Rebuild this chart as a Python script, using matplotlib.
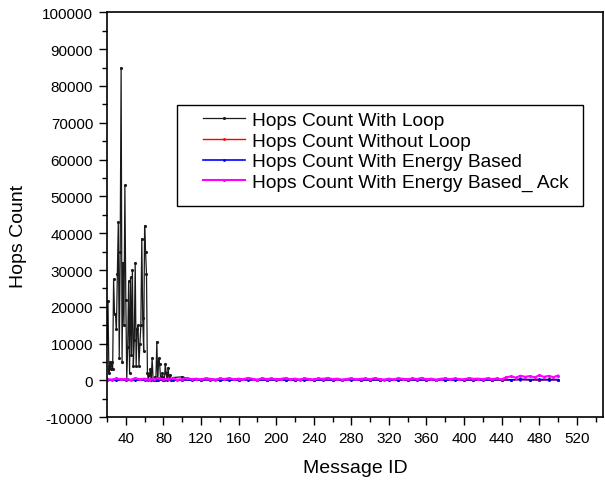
import numpy as np
import matplotlib
matplotlib.use('Agg')
from matplotlib import pyplot as plt
from matplotlib.patches import Rectangle
from matplotlib.ticker import MultipleLocator

# hops count with loop, message ids 20..90 (one per id), then every 10 ids
loop_head = [10000, 21600, 2000, 5000, 3000, 5000, 3000, 27500, 18000, 18000,
             14000, 29000, 43000, 6000, 35000, 85000, 5000, 32000, 15000, 53000,
             22000, 500, 9000, 27000, 2000, 28000, 7000, 30000, 4000, 11000,
             32000, 4000, 14000, 15000, 4000, 10000, 15000, 38500, 17000, 8000,
             42000, 35000, 29000, 2000, 0, 1500, 3000, 0, 6000, 500,
             0, 1000, 0, 10500, 0, 6000, 4500, 500, 1000, 2000,
             0, 0, 4500, 2000, 0, 3500, 500, 1500, 0, 500, 800]
loop_tail = [1000, 300, 200, 500, 100, 300, 200, 400, 100, 200,
             300, 100, 200, 400, 100, 300, 200, 100, 300, 200,
             100, 200, 300, 100, 200, 300, 100, 200, 100, 300,
             200, 100, 300, 200, 100, 200, 300, 200, 100, 300, 200]

# hops count without loop, every 10 ids from 20
no_loop = [100, 50, 150, 80, 120, 60, 200, 90, 140, 70,
           110, 160, 50, 130, 90, 180, 60, 120, 150, 80,
           100, 170, 60, 140, 90, 120, 200, 70, 150, 100,
           60, 130, 180, 90, 110, 150, 70, 140, 100, 160,
           80, 120, 200, 150, 250, 180, 220, 150, 200]

# hops count with energy based, every 10 ids from 20
energy = [150, 100, 200, 120, 180, 90, 220, 140, 170, 110,
          160, 200, 100, 180, 130, 210, 120, 160, 190, 110,
          150, 200, 120, 170, 140, 160, 230, 110, 190, 150,
          120, 170, 210, 130, 160, 190, 110, 180, 150, 200,
          130, 170, 250, 200, 300, 250, 280, 220, 260]

# hops count with energy based ack, every 5 ids from 20
energy_ack = [400, 250, 550, 300, 450, 200, 600, 350, 500, 250,
              400, 650, 300, 450, 550, 250, 400, 700, 350, 500,
              300, 600, 450, 250, 550, 400, 650, 300, 500, 350,
              700, 450, 250, 600, 400, 550, 300, 450, 650, 350,
              500, 250, 600, 400, 300, 550, 450, 700, 350, 500,
              250, 400, 600, 300, 450, 550, 350, 650, 400, 250,
              500, 300, 600, 450, 350, 550, 400, 700, 300, 500,
              250, 450, 600, 350, 550, 400, 300, 650, 450, 500,
              350, 600, 400, 550, 300,
              900, 1100, 800, 1300, 1000, 1200, 850, 1400, 1000, 1250, 900, 1350]

labels = ['Hops Count With Loop', 'Hops Count Without Loop',
          'Hops Count With Energy Based', 'Hops Count With Energy Based_ Ack']

plt.rcParams['font.family'] = ['Liberation Sans', 'DejaVu Sans']
plt.rcParams['axes.unicode_minus'] = False

loop_ids = np.concatenate([np.arange(20, 20 + len(loop_head)),
                           np.arange(100, 100 + 10 * len(loop_tail), 10)])
loop_vals = np.array(loop_head + loop_tail)
no_loop_ids = np.arange(20, 20 + 10 * len(no_loop), 10)
energy_ids = np.arange(20, 20 + 10 * len(energy), 10)
ack_ids = np.arange(20, 20 + 5 * len(energy_ack), 5)

fig = plt.figure(figsize=(6.05, 4.85), dpi=100)
ax = fig.add_axes([0.1769, 0.1375, 0.82, 0.835])

l1, = ax.plot(loop_ids, loop_vals, color='#1a1a1a', lw=0.9, marker='.', ms=2.5)
l2, = ax.plot(no_loop_ids, no_loop, color='red', lw=1.0, marker='.', ms=2)
l3, = ax.plot(energy_ids, energy, color='blue', lw=1.2, marker='.', ms=2)
l4, = ax.plot(ack_ids, energy_ack, color='#ff00ff', lw=1.5, marker='.', ms=2.5)

ax.set_xlim(20, 548)
ax.set_ylim(-10000, 100000)
ax.xaxis.set_minor_locator(MultipleLocator(20))
ax.yaxis.set_major_locator(MultipleLocator(10000))
ax.yaxis.set_minor_locator(MultipleLocator(5000))
ax.set_xticks(np.arange(40, 521, 40))
ax.tick_params(which='major', direction='out', length=6, width=1, pad=4, labelsize=11,
               top=False, right=False)
ax.tick_params(which='minor', direction='out', length=3.5, width=1, top=False, right=False)
for s in ax.spines.values():
    s.set_linewidth(1.2)

ax.set_xlabel('Message ID', fontsize=14)
ax.set_ylabel('Hops Count', fontsize=14)
ax.xaxis.set_label_coords(0.5, -0.125)
ax.yaxis.set_label_coords(-0.179, 0.448)
ax.xaxis.label.set_va('center')
ax.yaxis.label.set_va('center')

ax.add_patch(Rectangle((0.141, 0.522), 0.819, 0.249, transform=ax.transAxes,
                       fill=False, edgecolor='black', lw=1.0, zorder=5))
ax.legend([l1, l2, l3, l4], labels, loc='upper left', bbox_to_anchor=(0.1935, 0.755),
          frameon=False, fontsize=13.8, borderpad=0, borderaxespad=0,
          handlelength=2.2, handletextpad=0.35, labelspacing=0.17, numpoints=1)

fig.savefig('out.png', dpi=100)
